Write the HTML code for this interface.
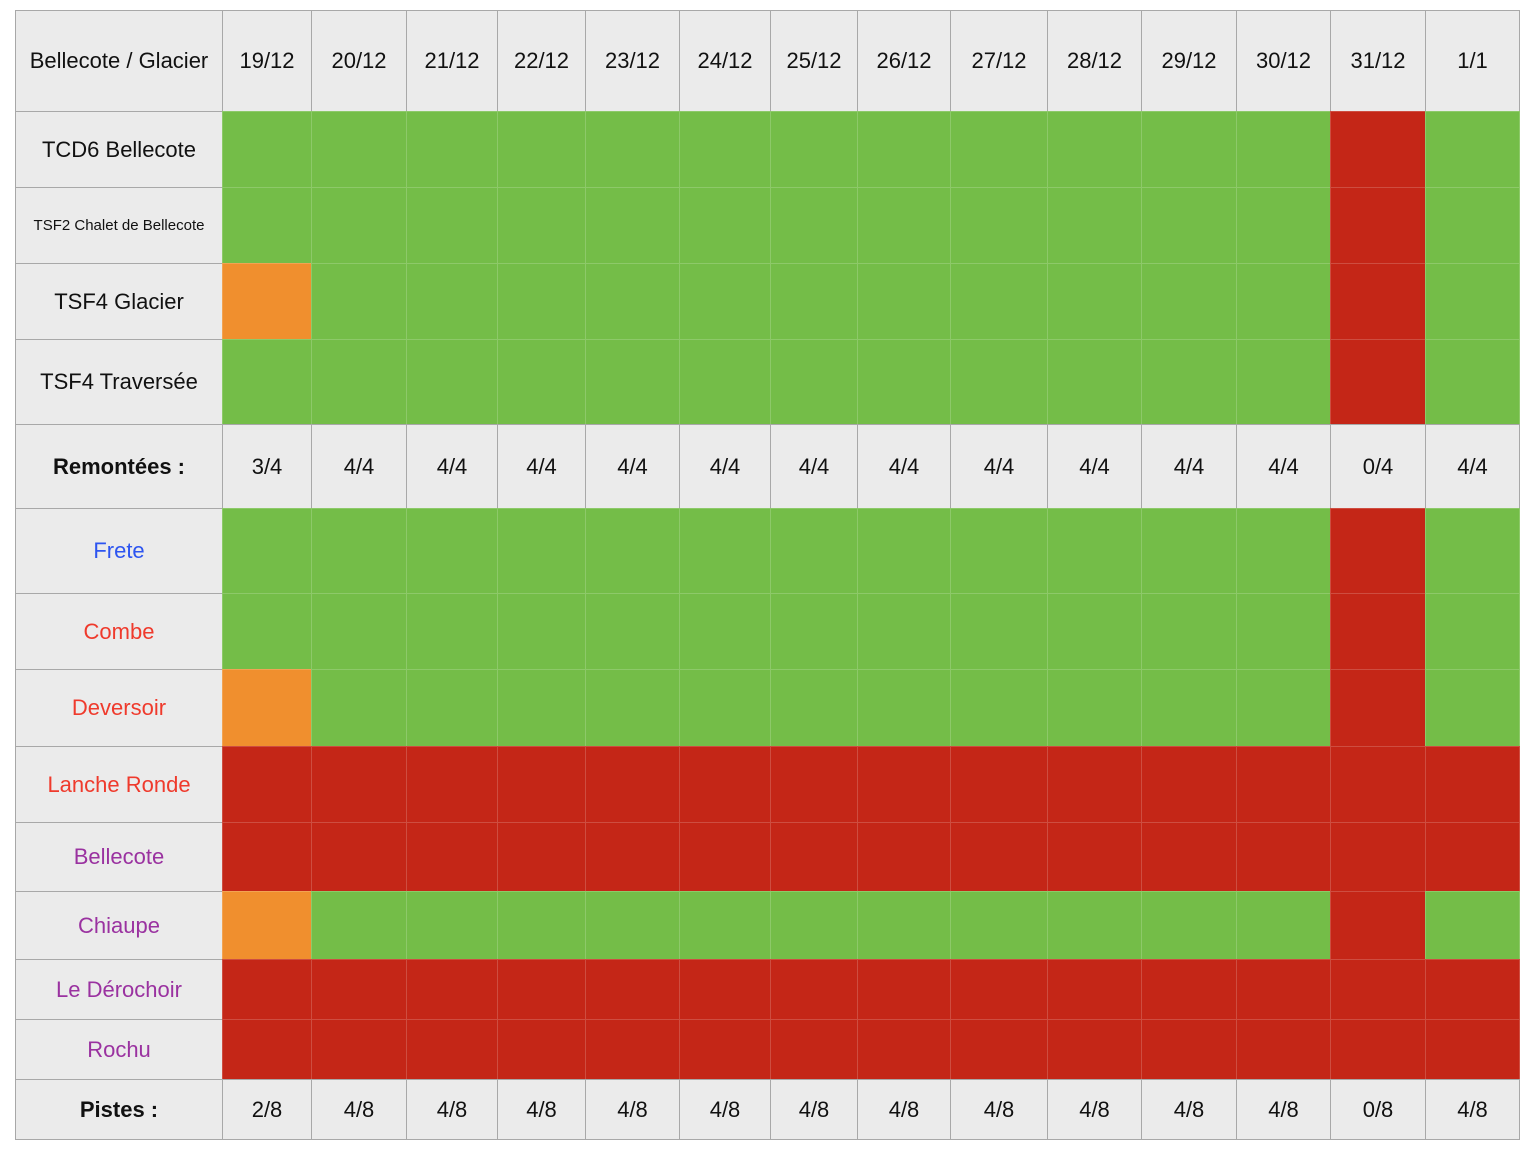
<!DOCTYPE html>
<html><head><meta charset="utf-8"><style>
body{margin:0;width:1532px;height:1150px;background:#fff;font-family:"Liberation Sans",sans-serif;position:relative;overflow:hidden}
.c{position:absolute;box-sizing:border-box;display:flex;align-items:center;justify-content:center;font-size:22px;color:#111;text-align:center}
</style></head><body>
<div id="t"></div>
<script>
const dates=["19/12","20/12","21/12","22/12","23/12","24/12","25/12","26/12","27/12","28/12","29/12","30/12","31/12","1/1"];
const lifts=["TCD6 Bellecote","TSF2 Chalet de Bellecote","TSF4 Glacier","TSF4 Traversée"];
const liftStatus=[
"ggggggggggggrg",
"ggggggggggggrg",
"oggggggggggggrg".slice(1).replace(/^/,"o").slice(0,14),
"gggggggggggggrg".slice(1)];
liftStatus[2]="ogggggggggggrg";
liftStatus[3]="gggggggggggggg".slice(0,12)+"rg";
const liftTotals=["3/4","4/4","4/4","4/4","4/4","4/4","4/4","4/4","4/4","4/4","4/4","4/4","0/4","4/4"];
const pistes=["Frete","Combe","Deversoir","Lanche Ronde","Bellecote","Chiaupe","Le Dérochoir","Rochu"];
const pisteColors=["#2d55f0","#ef3a2c","#ef3a2c","#ef3a2c","#9a32a0","#9a32a0","#9a32a0","#9a32a0"];
const pisteStatus=[
"ggggggggggggrg",
"ggggggggggggrg",
"ogggggggggggrg",
"rrrrrrrrrrrrrr",
"rrrrrrrrrrrrrr",
"ogggggggggggrg",
"rrrrrrrrrrrrrr",
"rrrrrrrrrrrrrr"];
const pisteTotals=["2/8","4/8","4/8","4/8","4/8","4/8","4/8","4/8","4/8","4/8","4/8","4/8","0/8","4/8"];

const X=[15,222,311,406,497,585,679,770,857,950,1047,1141,1236,1330,1425,1519];
const Y=[10,111,187,263,339,424,508,593,669,746,822,891,959,1019,1079,1139];
const COL={g:"#74bd48",r:"#c42617",o:"#f08f2e"};
const t=document.getElementById('t');
function cell(r,c,text,bg,name,extra){
  const d=document.createElement('div');
  d.className='c';
  
  
  d.style.left=X[c]+'px';d.style.top=Y[r]+'px';
  d.style.width=(X[c+1]-X[c]+1)+'px';d.style.height=(Y[r+1]-Y[r]+1)+'px';
  d.style.background=bg;
  d.style.border='1px solid '+(bg==="#ebebeb"?'#a8a8a8':'rgba(255,255,255,0.18)');
  if(text)d.textContent=text;
  if(extra)Object.assign(d.style,extra);
  t.appendChild(d);
}
cell(0,0,"Bellecote / Glacier","#ebebeb","table-title");
dates.forEach((d,i)=>cell(0,i+1,d,"#ebebeb","date-header"));
lifts.forEach((l,r)=>{
  cell(r+1,0,l,"#ebebeb","lift-label",l.length>20?{fontSize:'15px'}:null);
  for(let i=0;i<dates.length;i++)cell(r+1,i+1,"",COL[liftStatus[r][i]],"lift-status-cell");
});
cell(5,0,"Remontées :","#ebebeb","lifts-total-label",{fontWeight:'bold'});
liftTotals.forEach((v,i)=>cell(5,i+1,v,"#ebebeb","lifts-total"));
pistes.forEach((p,r)=>{
  cell(r+6,0,p,"#ebebeb","piste-label",{color:pisteColors[r]});
  for(let i=0;i<dates.length;i++)cell(r+6,i+1,"",COL[pisteStatus[r][i]],"piste-status-cell");
});
cell(14,0,"Pistes :","#ebebeb","pistes-total-label",{fontWeight:'bold'});
pisteTotals.forEach((v,i)=>cell(14,i+1,v,"#ebebeb","pistes-total"));
</script>
</body></html>
